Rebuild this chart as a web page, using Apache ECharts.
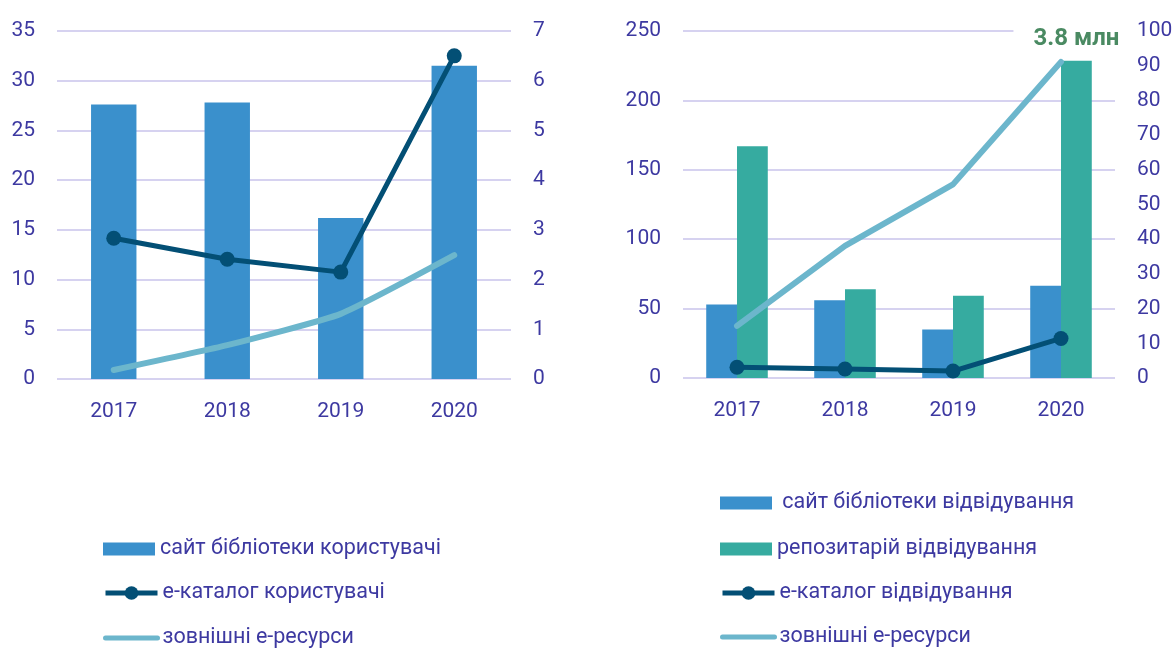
<!DOCTYPE html>
<html>
<head>
<meta charset="utf-8">
<script src="https://cdn.jsdelivr.net/npm/echarts@6/dist/echarts.min.js"></script>
<style>
  html, body { margin: 0; padding: 0; background: #fff; }
  #main { width: 1176px; height: 648px; }
</style>
</head>
<body>
<div id="main"></div>
<script>
var years = ["2017", "2018", "2019", "2020"];

// ліва діаграма
var siteUsers = [27.6, 27.8, 16.2, 31.5];
var catalogUsers = [2.83, 2.41, 2.15, 6.5];
var extResLeft = [0.18, 0.68, 1.31, 2.49];

// права діаграма
var siteVisits = [53, 56.1, 35, 66.5];
var repoVisits = [167, 64, 59.3, 228.5];
var catalogVisits = [3.1, 2.6, 2.0, 11.4];
var extResRight = [15, 38.1, 55.8, 91.1];
var repoNote = "3.8 млн";

var textColor = "#3d39a1";
var gridColor = "#d6d2f0";
var font = "Roboto";

var myChart = echarts.init(document.getElementById("main"));

function xAx(i) {
  return {
    type: "category",
    gridIndex: i,
    data: years,
    axisLine: { show: false },
    axisTick: { show: false },
    axisLabel: { color: textColor, fontSize: 21, fontFamily: font, margin: 22 }
  };
}

function yAx(i, max, step, split) {
  return {
    type: "value",
    gridIndex: i,
    min: 0,
    max: max,
    interval: step,
    position: split ? "left" : "right",
    axisLine: { show: false },
    axisTick: { show: false },
    axisLabel: { color: textColor, fontSize: 21, fontFamily: font, margin: 22 },
    splitLine: { show: split, lineStyle: { color: gridColor, width: 2 } }
  };
}

// одна легенда на кожен рядок, щоб не переносилось у колонки
// kind: "bar" | "dot" | "line"
function leg(name, left, cy, kind) {
  var item = { name: name };
  if (kind === "line") item.itemStyle = { opacity: 0 };
  return {
    left: left,
    top: cy - 12,
    padding: 0,
    itemWidth: 52,
    itemHeight: kind === "bar" ? 13 : 17,
    icon: kind === "bar" ? "rect" : null,
    lineStyle: { width: 5 },
    textStyle: { color: textColor, fontSize: 21.5, fontFamily: font, lineHeight: 24 },
    data: [item]
  };
}

var option = {
  animation: false,
  backgroundColor: "#fff",
  grid: [
    { left: 57, top: 31, width: 454, height: 348 },
    { left: 683, top: 31, width: 432, height: 347 }
  ],
  xAxis: [xAx(0), xAx(1)],
  yAxis: [yAx(0, 35, 5, true), yAx(0, 7, 1, false), yAx(1, 250, 50, true), yAx(1, 100, 10, false)],
  legend: [
    leg("сайт бібліотеки користувачі", 103, 549, "bar"),
    leg("е-каталог користувачі", 103, 593, "dot"),
    leg("зовнішні е-ресурси", 103, 638, "line"),
    leg(" сайт бібліотеки відвідування", 720, 503, "bar"),
    leg("репозитарій відвідування", 720, 549, "bar"),
    leg("е-каталог відвідування", 720, 593, "dot"),
    leg("зовнішні е-ресурси", 720, 637, "line")
  ],
  series: [
    {
      name: "сайт бібліотеки користувачі",
      type: "bar",
      xAxisIndex: 0,
      yAxisIndex: 0,
      barWidth: "40%",
      itemStyle: { color: "#3a90cc" },
      data: siteUsers
    },
    {
      name: "е-каталог користувачі",
      type: "line",
      xAxisIndex: 0,
      yAxisIndex: 1,
      symbol: "circle",
      symbolSize: 15,
      lineStyle: { color: "#034f75", width: 5 },
      itemStyle: { color: "#034f75" },
      data: catalogUsers
    },
    {
      name: "зовнішні е-ресурси",
      type: "line",
      xAxisIndex: 0,
      yAxisIndex: 1,
      symbol: "none",
      smooth: 0.15,
      lineStyle: { color: "#6cb6cc", width: 6, cap: "round" },
      itemStyle: { color: "#6cb6cc" },
      data: extResLeft
    },
    {
      name: " сайт бібліотеки відвідування",
      type: "bar",
      xAxisIndex: 1,
      yAxisIndex: 2,
      barGap: "0%",
      barCategoryGap: "43%",
      itemStyle: { color: "#3a90cc" },
      data: siteVisits
    },
    {
      name: "репозитарій відвідування",
      type: "bar",
      xAxisIndex: 1,
      yAxisIndex: 2,
      barGap: "0%",
      barCategoryGap: "43%",
      itemStyle: { color: "#36aba0" },
      data: repoVisits.map(function (v, i) {
        if (i !== repoVisits.length - 1) return v;
        return {
          value: v,
          label: {
            show: true,
            position: "top",
            distance: 10,
            formatter: repoNote,
            color: "#4a8a62",
            fontSize: 24,
            fontWeight: "bold",
            fontFamily: font,
            backgroundColor: "#fff",
            padding: [0, 20, 0, 20]
          }
        };
      })
    },
    {
      name: "е-каталог відвідування",
      type: "line",
      xAxisIndex: 1,
      yAxisIndex: 3,
      symbol: "circle",
      symbolSize: 15,
      lineStyle: { color: "#034f75", width: 5 },
      itemStyle: { color: "#034f75" },
      data: catalogVisits
    },
    {
      name: "зовнішні е-ресурси",
      type: "line",
      xAxisIndex: 1,
      yAxisIndex: 3,
      symbol: "none",
      lineStyle: { color: "#6cb6cc", width: 6, cap: "round" },
      itemStyle: { color: "#6cb6cc" },
      data: extResRight
    }
  ]
};

myChart.setOption(option);
</script>
</body>
</html>
